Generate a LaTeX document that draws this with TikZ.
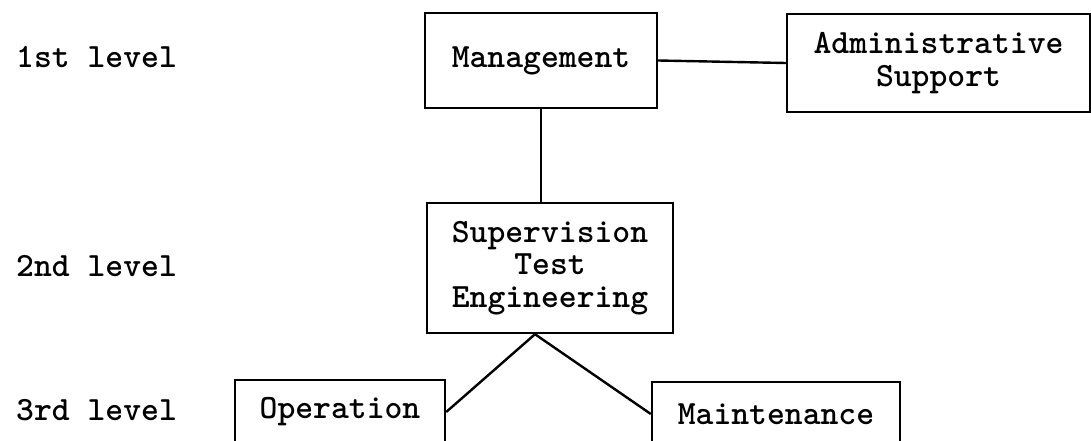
\documentclass[tikz,border=0pt]{standalone}
\begin{document}
\begin{tikzpicture}[x=1pt,y=-1pt,
    unitbox/.style={draw, line width=2.4pt, inner sep=0pt, align=center,
      font=\ttfamily\bfseries\fontsize{34}{32.5}\selectfont},
    levelname/.style={anchor=base west, inner sep=0pt,
      font=\ttfamily\bfseries\fontsize{34}{32.5}\selectfont},
    link/.style={line width=2.4pt}]
    \useasboundingbox (0,0) rectangle (1091,441);

    % Level names
    \node[levelname] (first) at (16,68) {1st level};
    \node[levelname] (second) at (16,276) {2nd level};
    \node[levelname] (third) at (16,420) {3rd level};

    % Boxes
    \node[unitbox, minimum width=232, minimum height=95] (mgmt) at (541,60.5) {Management};
    \node[unitbox, minimum width=303, minimum height=98] (admin) at (938.5,63) {Administrative\\Support};
    \node[unitbox, minimum width=246, minimum height=130] (sup) at (550,268) {Supervision\\Test\\Engineering};
    \node[unitbox, minimum width=210, minimum height=64] (oper) at (340,412) {Operation};
    \node[unitbox, minimum width=248, minimum height=64] (maint) at (776,414) {Maintenance};

    % Connections
    \draw[link] (mgmt.east) -- (admin.west);
    \draw[link] (mgmt.south) -- (mgmt.south |- sup.north);
    \draw[link] ([xshift=-15pt]sup.south) -- (oper.east);
    \draw[link] ([xshift=-15pt]sup.south) -- (maint.west);
\end{tikzpicture}
\end{document}
